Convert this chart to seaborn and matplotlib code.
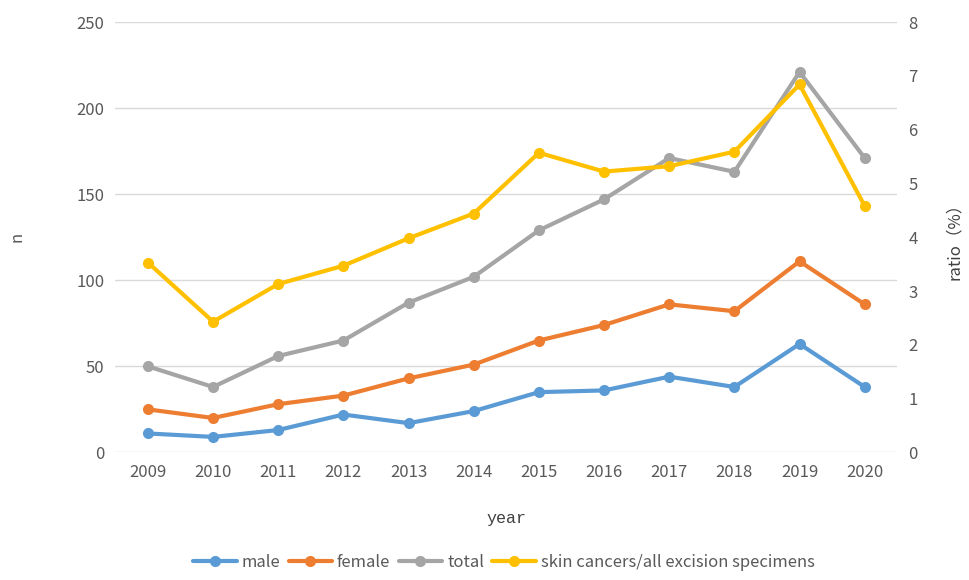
import pandas as pd
import matplotlib.pyplot as plt
import seaborn as sns

years = [2009, 2010, 2011, 2012, 2013, 2014, 2015, 2016, 2017, 2018, 2019, 2020]
male = [11, 9, 13, 22, 17, 24, 35, 36, 44, 38, 63, 38]
female = [25, 20, 28, 33, 43, 51, 65, 74, 86, 82, 111, 86]
total = [50, 38, 56, 65, 87, 102, 129, 147, 171, 163, 221, 171]
ratio = [3.53, 2.43, 3.13, 3.47, 3.98, 4.44, 5.57, 5.22, 5.32, 5.59, 6.84, 4.58]

ratio_name = "skin cancers/all excision specimens"
colors = {"male": "#5B9BD5", "female": "#ED7D31", "total": "#A5A5A5",
          ratio_name: "#FFC000"}

counts = pd.DataFrame({"year": years, "male": male, "female": female, "total": total})
counts = counts.melt(id_vars="year", var_name="group", value_name="n")
ratio_df = pd.DataFrame({"year": years, "ratio": ratio, "group": ratio_name})

sns.set_style("white")
plt.rcParams["font.family"] = ["Noto Sans CJK SC", "DejaVu Sans"]
tick_color = "#595959"

fig, ax = plt.subplots(figsize=(9.69, 5.8), dpi=100)
fig.subplots_adjust(left=0.119, right=0.926, top=0.962, bottom=0.22)

line_kw = dict(linewidth=3, marker="o", markersize=8, markeredgewidth=0)
sns.lineplot(data=counts, x="year", y="n", hue="group", palette=colors,
             ax=ax, legend=False, **line_kw)

ax2 = ax.twinx()
sns.lineplot(data=ratio_df, x="year", y="ratio", hue="group", palette=colors,
             ax=ax2, legend=False, **line_kw)

ax.set_ylim(0, 250)
ax.set_yticks(range(0, 251, 50))
ax2.set_ylim(0, 8)
ax2.set_yticks(range(0, 9))
ax.set_xlim(2008.5, 2020.5)
ax.set_xticks(years)

ax.yaxis.grid(True, color="#D9D9D9", linewidth=1)
ax.set_axisbelow(True)
for a in (ax, ax2):
    for s in a.spines.values():
        s.set_visible(False)
    a.tick_params(length=0, labelsize=12, labelcolor=tick_color, pad=8)

ax.set_ylabel("n", fontsize=12, color=tick_color)
ax.yaxis.set_label_coords(-0.115, 0.5)
ax2.set_ylabel("ratio（%）", fontsize=12, color="#404040")
ax2.yaxis.set_label_coords(1.062, 0.5)
ax.set_xlabel("year", fontsize=12, color="#404040", family="Liberation Mono",
              labelpad=22)

handles = [plt.Line2D([], [], color=colors[k], **line_kw) for k in colors]
fig.legend(handles, list(colors.keys()), loc="lower center", ncol=4,
           frameon=False, fontsize=12, handlelength=2.6, columnspacing=0.5,
           handletextpad=0.3, labelcolor=tick_color, bbox_to_anchor=(0.52, -0.01))

fig.savefig("out.png", dpi=100)
